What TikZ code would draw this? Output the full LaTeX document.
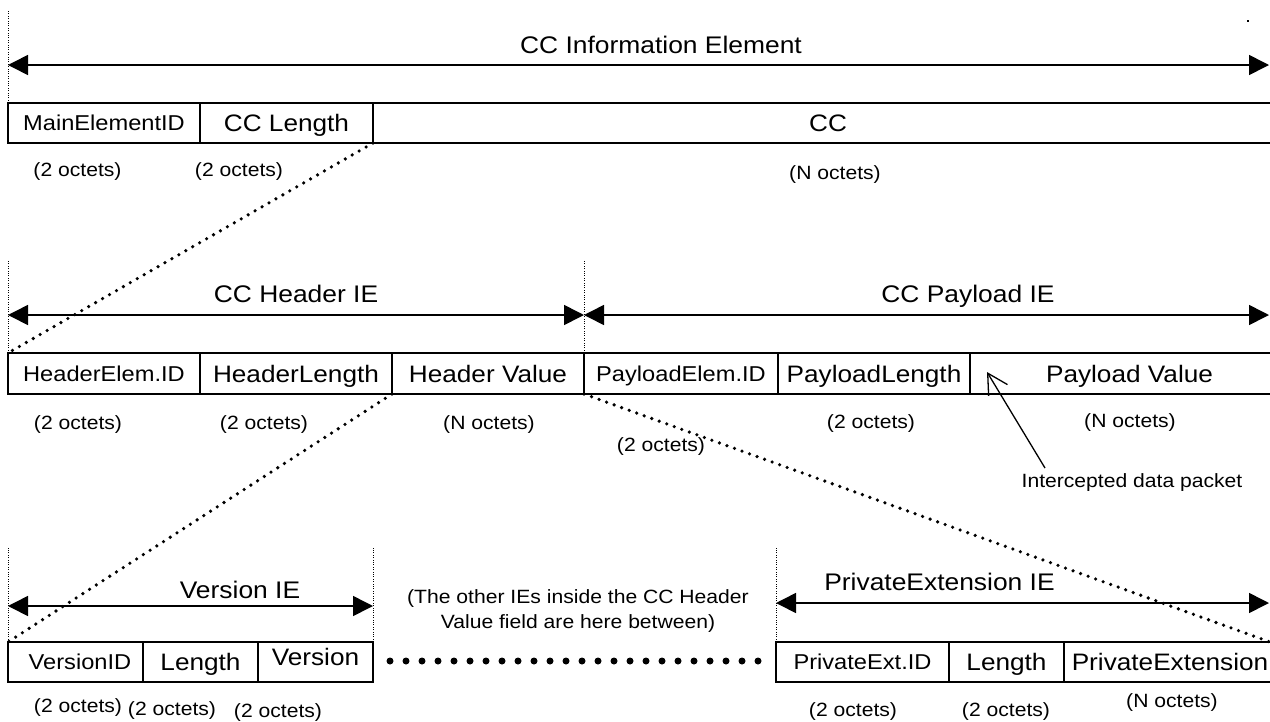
\documentclass[tikz,border=0pt]{standalone}
\usepackage{fontspec}
\setmainfont[FakeStretch=1.1]{Liberation Sans}
\usetikzlibrary{arrows.meta}
\newcommand{\fsTitle}{\fontsize{24}{28}\selectfont}
\newcommand{\fsBig}{\fontsize{23.8}{28}\selectfont}
\newcommand{\fsId}{\fontsize{21.5}{26}\selectfont}
\newcommand{\fsOct}{\fontsize{19.2}{25}\selectfont}
\begin{document}
\begin{tikzpicture}[x=1pt,y=-1pt,
  cell/.style={draw, line width=2pt, minimum height=40pt, inner sep=0pt, outer sep=0pt,
               font=\fsBig, text height=17pt, text depth=0pt},
  opencell/.style={minimum height=40pt, inner sep=0pt, outer sep=0pt,
               font=\fsBig, text height=17pt, text depth=0pt},
  idcell/.style={font=\fsId, text height=15.4pt},
  boxline/.style={line width=2pt},
  ttl/.style={font=\fsTitle, anchor=base, inner sep=0pt},
  oct/.style={font=\fsOct, inner sep=0pt},
  dimarrow/.style={line width=1.6pt, {Triangle[length=20pt,width=20pt]}-{Triangle[length=20pt,width=20pt]}},
  vdot/.style={line width=0.8pt, dash pattern=on 0.8pt off 1.6pt},
  dotline/.style={line width=3.6pt, line cap=round, dash pattern=on 0pt off 8pt},
  bigdot/.style={fill=black}
]
\useasboundingbox (0,0) rectangle (1270,721);
\fill (1247,20) rectangle (1249,22);

% ---------- Row 1 ----------
\node[ttl] (t1) at (661,53) {CC Information Element};
\node[cell, idcell, minimum width=192pt] (mainid) at (104,123) {MainElementID};
\node[cell, minimum width=173pt] (cclen) at (286.5,123) {CC Length};
\node[opencell, minimum width=910pt] (cc) at (828,123) {CC};
\coordinate (r1t) at (1270,103);
\coordinate (r1b) at (1270,143);
\draw[boxline] (cc.north west) -- (r1t);
\draw[boxline] (cc.south west) -- (r1b);
\coordinate (v1top) at (8,10);
\draw[vdot] (mainid.north west) -- (v1top);
\coordinate (a1l) at (8,65);
\coordinate (a1r) at (1269,65);
\draw[dimarrow] (a1l) -- (a1r);
\node[oct] (o11) at (77.5,171.5) {(2 octets)};
\node[oct] (o12) at (239,171.5) {(2 octets)};
\node[oct] (o13) at (835,175) {(N octets)};

% ---------- Row 2 ----------
\node[ttl] (t2) at (296,302) {CC Header IE};
\node[ttl] (t3) at (968,302) {CC Payload IE};
\node[cell, idcell, minimum width=192pt, minimum height=41pt] (hid) at (104,373.5) {HeaderElem.ID};
\node[cell, minimum width=192pt, minimum height=41pt] (hlen) at (296,373.5) {HeaderLength};
\node[cell, minimum width=192pt, minimum height=41pt] (hval) at (488,373.5) {Header Value};
\node[cell, idcell, minimum width=194pt, minimum height=41pt] (pid) at (681,373.5) {PayloadElem.ID};
\node[cell, minimum width=192pt, minimum height=41pt] (plen) at (874,373.5) {PayloadLength};
\node[opencell, minimum width=319pt, minimum height=41pt] (pval) at (1129.5,373.5) {Payload Value};
\coordinate (r2t) at (1270,353);
\coordinate (r2b) at (1270,394);
\draw[boxline] (pval.north west) -- (r2t);
\draw[boxline] (pval.south west) -- (r2b);
\coordinate (v2a) at (8,260);
\coordinate (v2b) at (584,260);
\draw[vdot] (hid.north west) -- (v2a);
\draw[vdot] (pid.north west) -- (v2b);
\coordinate (a2l) at (8,315);
\coordinate (a2m) at (584,315);
\coordinate (a2r) at (1269,315);
\draw[dimarrow] (a2l) -- (a2m);
\draw[dimarrow] (a2m) -- (a2r);
\node[oct] (o21) at (78,425) {(2 octets)};
\node[oct] (o22) at (264,425) {(2 octets)};
\node[oct] (o23) at (489,425) {(N octets)};
\node[oct] (o24) at (661,447) {(2 octets)};
\node[oct] (o25) at (871,424) {(2 octets)};
\node[oct] (o26) at (1130,423) {(N octets)};
\node[oct, anchor=base] (icp) at (1132,487) {Intercepted data packet};
\coordinate (icpfrom) at (1045,468);
\coordinate (icptip) at (987,372);
\draw[line width=1.3pt, -{Straight Barb[length=20pt,width=22pt,line width=1.3pt]}] (icpfrom) -- (icptip);

% ---------- Row 3 ----------
\node[ttl] (t4) at (240,598) {Version IE};
\node[ttl] (t5) at (939.5,590) {PrivateExtension IE};
\node[cell, idcell, minimum width=135pt] (vid) at (75.5,662) {\hspace*{9pt}VersionID};
\node[cell, minimum width=115pt] (vlen) at (200.5,662) {Length};
\node[cell, minimum width=115pt] (vver) at (315.5,662) {\raisebox{5pt}{Version}};
\node[cell, idcell, minimum width=173pt] (prid) at (862.5,662) {PrivateExt.ID};
\node[cell, minimum width=115pt] (prlen) at (1006.5,662) {Length};
\node[opencell, minimum width=212pt] (prext) at (1170,662) {PrivateExtension};
\coordinate (r3t) at (1270,642);
\coordinate (r3b) at (1270,682);
\draw[boxline] (prext.north west) -- (r3t);
\draw[boxline] (prext.south west) -- (r3b);
\coordinate (v3a) at (8,548);
\coordinate (v3b) at (373,548);
\coordinate (v3c) at (776,548);
\draw[vdot] (vid.north west) -- (v3a);
\draw[vdot] (vver.north east) -- (v3b);
\draw[vdot] (prid.north west) -- (v3c);
\coordinate (a3l) at (8,606);
\coordinate (a3r) at (373,606);
\coordinate (a4l) at (776,603);
\coordinate (a4r) at (1269,603);
\draw[dimarrow] (a3l) -- (a3r);
\draw[dimarrow] (a4l) -- (a4r);
\node[oct, anchor=base] (n1) at (578,603) {(The other IEs inside the CC Header};
\node[oct, anchor=base] (n2) at (578,628) {Value field are here between)};
\foreach \i in {0,...,23} \fill[bigdot] (390+16*\i,661) circle (3.5pt);
\node[oct] (o31) at (78,708) {(2 octets)};
\node[oct] (o32) at (172,711) {(2 octets)};
\node[oct] (o33) at (278,713) {(2 octets)};
\node[oct] (o34) at (853,712) {(2 octets)};
\node[oct] (o35) at (1006,712) {(2 octets)};
\node[oct] (o36) at (1172,703) {(N octets)};

% ---------- dotted expansion lines ----------
\draw[dotline] (cclen.south east) -- (hid.north west);
\draw[dotline] (hval.south west) -- (vid.north west);
\draw[dotline] (pid.south west) -- (r3t);
\end{tikzpicture}
\end{document}
